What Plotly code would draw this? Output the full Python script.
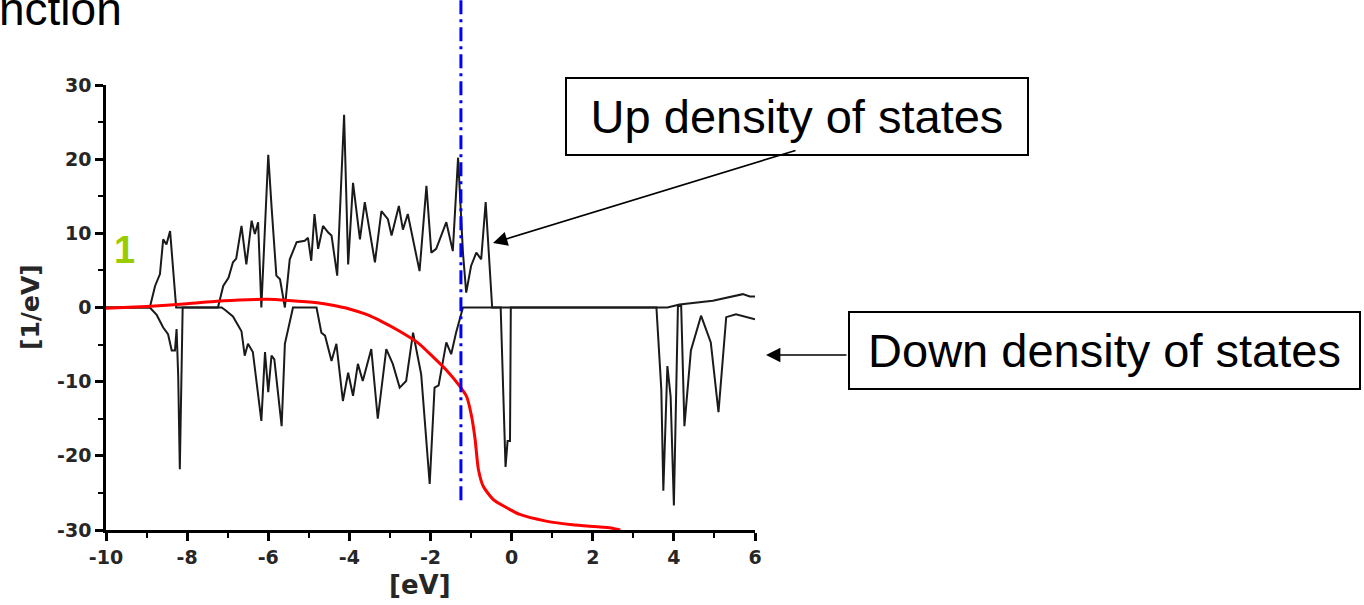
import plotly.graph_objects as go

# ---------------- data ----------------
up_x = [-10, -8.92, -8.79, -8.67, -8.59, -8.51, -8.42, -8.34, -8.27, -7.24, -7.11, -6.98, -6.87,
        -6.79, -6.66, -6.54, -6.41, -6.33, -6.25, -6.17, -6.0, -5.92, -5.8, -5.71, -5.59, -5.47,
        -5.3, -5.1, -5.02, -4.94, -4.86, -4.77, -4.65, -4.52, -4.44, -4.30, -4.13, -4.03, -3.91,
        -3.74, -3.62, -3.37, -3.21, -3.05, -2.96, -2.78, -2.68, -2.56, -2.47, -2.27, -2.10, -1.98,
        -1.86, -1.61, -1.45, -1.32, -1.20, -1.12, -1.00, -0.87, -0.75, -0.64, -0.48, 3.84, 4.14,
        4.96, 5.70, 5.87, 6.0]
up_y = [0, 0, 2.9, 4.5, 9.2, 8.5, 10.3, 5.2, 0, 0, 2.9, 4.0, 6.1,
        6.6, 11.0, 5.8, 11.7, 9.9, 11.5, 0, 20.6, 13.7, 4.3, 3.8, 0, 6.5,
        8.8, 9.0, 9.4, 6.3, 12.6, 7.9, 11.0, 10.1, 9.7, 4.3, 26.0, 5.8, 16.8,
        9.2, 14.2, 6.1, 13.0, 11.9, 9.7, 13.7, 10.5, 12.6, 10.1, 4.9, 16.4, 7.4,
        7.9, 11.5, 7.6, 20.2, 7.4, 2.0, 5.6, 7.4, 6.5, 14.2, 0, 0, 0.4,
        0.9, 1.8, 1.5, 1.5]

down_x = [-10, -8.92, -8.75, -8.59, -8.47, -8.38, -8.30, -8.26, -8.22, -8.18, -8.11, -7.15, -7.07,
          -6.87, -6.66, -6.58, -6.50, -6.38, -6.17, -6.08, -6.00, -5.92, -5.85, -5.67, -5.59, -5.39,
          -4.81, -4.69, -4.60, -4.44, -4.32, -4.16, -4.03, -3.91, -3.79, -3.67, -3.46, -3.30, -3.09,
          -2.93, -2.76, -2.60, -2.43, -2.23, -2.02, -1.90, -1.80, -1.61, -1.49, -1.37, -1.20, -0.27,
          -0.15, -0.10, -0.04, -0.02, 3.57, 3.69, 3.74, 3.84, 3.92, 4.00, 4.10, 4.18, 4.26,
          4.42, 4.67, 4.91, 5.10, 5.29, 5.53, 6.0]
down_y = [0, 0, -1.0, -2.7, -3.6, -5.8, -5.8, -2.9, -9.2, -21.8, 0, 0, -0.3,
          -1.2, -3.2, -6.5, -4.9, -6.0, -15.3, -6.0, -11.4, -6.5, -7.0, -16.0, -4.9, 0,
          0, -3.4, -3.8, -7.2, -4.9, -12.6, -8.8, -11.9, -7.6, -9.9, -5.6, -15.0, -5.6,
          -7.6, -10.8, -9.9, -3.4, -9.0, -23.8, -10.8, -10.5, -4.7, -6.3, -3.4, 0, 0,
          -21.5, -18.0, -18.0, 0, 0, -11.0, -24.7, -7.9, -12.0, -26.7, 0.2, 0.2, -16.0,
          -5.8, -1.1, -4.7, -14.1, -1.3, -0.9, -1.6]

fermi_x = [-10, -9, -8, -7.27, -6.5, -6.03, -5.5, -4.8, -4.41, -4.0, -3.58, -3.2, -2.76, -2.3,
           -1.95, -1.6, -1.28, -1.11, -0.99, -0.9, -0.82, -0.7, -0.45, -0.12, 0.2, 0.85, 1.5,
           2.41, 2.68]
fermi_y = [-0.1, 0.15, 0.5, 0.85, 1.05, 1.1, 0.95, 0.65, 0.3, -0.2, -0.94, -1.9, -3.2, -4.8,
           -6.6, -8.5, -10.6, -12.0, -14.6, -17.8, -21.8, -24.1, -25.9, -27.0, -27.9, -28.8, -29.3,
           -29.7, -30.0]

fermi_level = -1.25          # eV, dash-dot marker
fermi_line_bottom = -26      # [1/eV]

x_ticks = [-10, -8, -6, -4, -2, 0, 2, 4, 6]
y_ticks = [-30, -20, -10, 0, 10, 20, 30]
x_range = [-10, 6]
y_range = [-30, 30]

# ---------------- layout geometry ----------------
W, H = 1364, 605
L, R, T, B = 106, 609, 85, 75
PW, PH = W - L - R, H - T - B


def paper_x(px):
    return (px - L) / PW


def paper_y(py):
    return (H - B - py) / PH


FONT = "Arial, 'Liberation Sans', sans-serif"
AXFONT = "'DejaVu Sans', Arial, sans-serif"

fig = go.Figure()
fig.add_trace(go.Scatter(x=up_x, y=up_y, mode="lines",
                         line=dict(color="#1a1a1a", width=2.0), showlegend=False))
fig.add_trace(go.Scatter(x=down_x, y=down_y, mode="lines",
                         line=dict(color="#1a1a1a", width=2.0), showlegend=False))
fig.add_trace(go.Scatter(x=fermi_x, y=fermi_y, mode="lines",
                         line=dict(color="#ff0000", width=3, shape="spline", smoothing=0.6),
                         showlegend=False))

# dash-dot Fermi level line (extends above the plot area)
fig.add_shape(type="line", xref="x", yref="paper",
              x0=fermi_level, x1=fermi_level,
              y0=(fermi_line_bottom - y_range[0]) / (y_range[1] - y_range[0]),
              y1=paper_y(0),
              line=dict(color="#0000ff", width=3, dash="14px,5px,3px,5px"))

axis_common = dict(showline=True, linecolor="black", linewidth=2.5, ticks="outside",
                   ticklen=8, tickwidth=2.5, tickcolor="black", showgrid=False,
                   zeroline=False, mirror=False,
                   tickfont=dict(family=AXFONT, size=19, color="#262626", weight="bold"))
fig.update_xaxes(range=x_range, tickvals=x_ticks, ticktext=[str(v) for v in x_ticks],
                 minor=dict(dtick=1, ticks="outside", ticklen=5, tickwidth=2, tickcolor="black"),
                 **axis_common)
fig.update_yaxes(range=y_range, tickvals=y_ticks, ticktext=[str(v) for v in y_ticks],
                 minor=dict(dtick=5, ticks="outside", ticklen=5, tickwidth=2, tickcolor="black"),
                 **axis_common)

annotations = [
    # axis titles
    dict(text="[eV]", xref="paper", yref="paper", x=paper_x(420), y=paper_y(585),
         showarrow=False, font=dict(family=AXFONT, size=26, color="#262626", weight="bold"),
         xanchor="center", yanchor="middle"),
    dict(text="[1/eV]", xref="paper", yref="paper", x=paper_x(30), y=paper_y(307),
         showarrow=False, textangle=-90,
         font=dict(family=AXFONT, size=25, color="#262626", weight="bold"),
         xanchor="center", yanchor="middle"),
    # green label
    dict(text="1", xref="paper", yref="paper", x=paper_x(124), y=paper_y(250),
         showarrow=False, font=dict(family=FONT, size=38, color="#99cc00", weight="bold"),
         xanchor="center", yanchor="middle"),
    # cropped title at top-left
    dict(text="nction", xref="paper", yref="paper", x=paper_x(-3), y=paper_y(-19),
         showarrow=False, font=dict(family=FONT, size=46, color="black"),
         xanchor="left", yanchor="top"),
    # boxed labels
    dict(text="Up density of states", xref="paper", yref="paper",
         x=paper_x(797), y=paper_y(116.5), showarrow=False,
         font=dict(family=FONT, size=47, color="black"),
         bordercolor="black", borderwidth=2, borderpad=0, width=460, height=75,
         bgcolor="white", xanchor="center", yanchor="middle"),
    dict(text="Down density of states", xref="paper", yref="paper",
         x=paper_x(1104.5), y=paper_y(350.5), showarrow=False,
         font=dict(family=FONT, size=47, color="black"),
         bordercolor="black", borderwidth=2, borderpad=0, width=509, height=75,
         bgcolor="white", xanchor="center", yanchor="middle"),
    # arrows
    dict(text="", xref="paper", yref="paper", x=paper_x(493), y=paper_y(243),
         ax=797 - 493, ay=150 - 243, axref="pixel", ayref="pixel",
         showarrow=True, arrowhead=2, arrowsize=1.8, arrowwidth=1.6, arrowcolor="black"),
    dict(text="", xref="paper", yref="paper", x=paper_x(766), y=paper_y(355),
         ax=848 - 766, ay=0, axref="pixel", ayref="pixel",
         showarrow=True, arrowhead=2, arrowsize=1.8, arrowwidth=1.6, arrowcolor="black"),
]

fig.update_layout(width=W, height=H, margin=dict(l=L, r=R, t=T, b=B),
                  paper_bgcolor="white", plot_bgcolor="white",
                  annotations=annotations, showlegend=False)

fig.write_html("out.html", config={"displayModeBar": False},
               post_script="document.body.style.margin='0';document.body.style.overflow='hidden';")
